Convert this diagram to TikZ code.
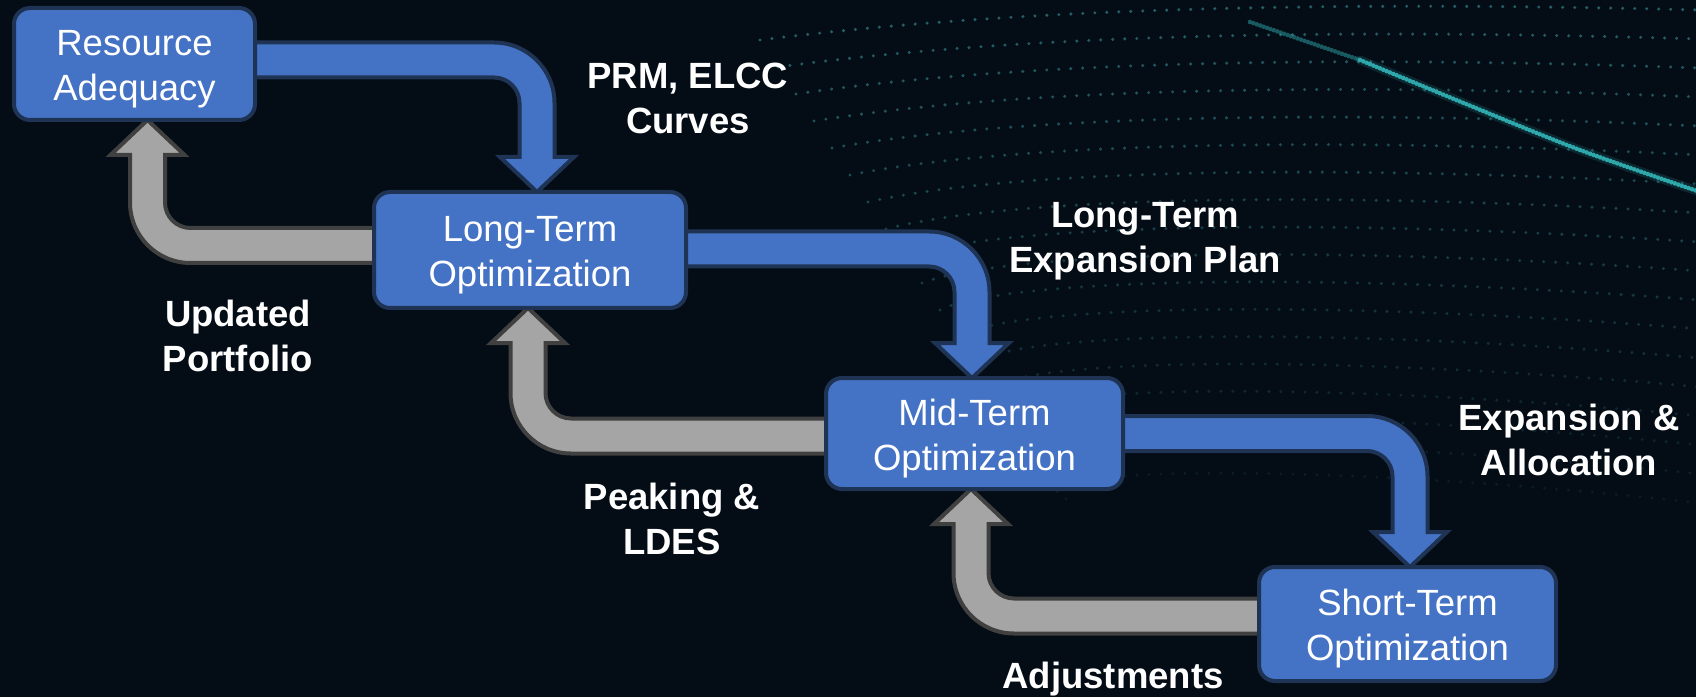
\documentclass[tikz,border=0pt]{standalone}
\usepackage{fontspec}
\setmainfont{Liberation Sans}
\usetikzlibrary{calc}
\definecolor{bgc}{HTML}{040C15}
\definecolor{boxblue}{HTML}{4472C4}
\definecolor{boxborder}{HTML}{1F3455}
\definecolor{arrgray}{HTML}{A5A5A5}
\definecolor{arrgrayborder}{HTML}{404040}
\definecolor{dotc}{HTML}{27636B}
\definecolor{streakc}{HTML}{2FA8AC}
\pgfdeclarelayer{back}
\pgfdeclarelayer{arrows}
\pgfsetlayers{back,arrows,main}
\newcommand\aw{17.5}
\newcommand\aR{43}
\newcommand\aRo{60.5}
\newcommand\aRi{25.5}
\newcommand\ahw{37}
\newcommand\ahl{35}
\newcommand\tup{\rule{0pt}{36pt}}
% bent arrow: right then down
\newcommand\bentdown[5]{%
  \draw[#1] let \p1=(#2), \p2=(#3), \n1={\y1+(#4)}, \n2={\x2+(#5)}, \n3={\y2+\ahl} in
   (\x1-3, \n1+\aw) -- (\n2-\aR, \n1+\aw) arc[start angle=90, end angle=0, radius=\aRo]
   -- (\n2+\aw, \n3) -- (\n2+\ahw, \n3) -- (\n2, \y2) -- (\n2-\ahw, \n3) -- (\n2-\aw, \n3)
   -- (\n2-\aw, \n1-\aR) arc[start angle=0, end angle=90, radius=\aRi]
   -- (\x1-3, \n1-\aw) -- cycle;}
% bent arrow: left then up
\newcommand\bentup[5]{%
  \draw[#1] let \p1=(#2), \p2=(#3), \n1={\y1+(#4)}, \n2={\x2+(#5)}, \n3={\y2-\ahl} in
   (\x1+3, \n1+\aw) -- (\n2+\aR, \n1+\aw) arc[start angle=-90, end angle=-180, radius=\aRi]
   -- (\n2+\aw, \n3) -- (\n2+\ahw, \n3) -- (\n2, \y2) -- (\n2-\ahw, \n3) -- (\n2-\aw, \n3)
   -- (\n2-\aw, \n1+\aR) arc[start angle=180, end angle=270, radius=\aRo]
   -- (\x1+3, \n1-\aw) -- cycle;}
\tikzset{
  box/.style={draw=boxborder, fill=boxblue, line width=4pt, rounded corners=16pt,
    text=white, align=center, font=\fontsize{36.5}{45}\selectfont, inner sep=0pt, outer sep=0pt},
  lbl/.style={text=white, align=center, font=\fontsize{36.5}{45}\selectfont\bfseries, inner sep=0pt},
  bluearr/.style={draw=boxborder, fill=boxblue, line width=4pt, line join=miter},
  grayarr/.style={draw=arrgrayborder, fill=arrgray, line width=4pt, line join=miter},
  dotrow/.style={dotc, line width=3.4pt, line cap=round, dash pattern=on 0pt off 12pt},
  streak/.style={streakc, line width=4.6pt, line cap=round, dash pattern=on 0pt off 3.6pt},
}
\begin{document}
\begin{tikzpicture}[x=1pt, y=1pt]
\useasboundingbox (0,0) rectangle (1696,697);
\begin{pgfonlayer}{back}
  \fill[bgc] (0,0) rectangle (1696,697);
  \foreach \i in {0,...,17}{
    \pgfmathsetmacro\op{0.95-0.045*\i}
    \draw[dotrow, draw opacity=\op] (760+18*\i, 657-27*\i) .. controls (1000, 687-27*\i) and (1300, 697-27*\i) .. (1700, 687-29*\i);
  }
  \draw[streakc, line width=9pt, opacity=0.18, line cap=round] plot[smooth] coordinates {(1360,637) (1466,593) (1580,547) (1700,505)};
  \draw[streak, opacity=0.5] plot[smooth] coordinates {(1250,675) (1305,656) (1360,637)};
  \draw[streak] plot[smooth] coordinates {(1360,637) (1466,593) (1580,547) (1700,505)};
\end{pgfonlayer}

% boxes
\node[box, minimum width=241pt, minimum height=112pt] (RA) at (134.5,633) {\tup Resource\\Adequacy};
\node[box, minimum width=312pt, minimum height=116pt] (LT) at (530,447) {\tup Long-Term\\Optimization};
\node[box, minimum width=297pt, minimum height=111pt] (MT) at (974.5,263.5) {\tup Mid-Term\\Optimization};
\node[box, minimum width=297pt, minimum height=114pt] (ST) at (1407.5,73) {\tup Short-Term\\Optimization};

% connectors
\begin{pgfonlayer}{arrows}
  \bentdown{bluearr}{RA.east}{LT.north}{4}{7}
  \bentdown{bluearr}{LT.east}{MT.north}{1}{-2.5}
  \bentdown{bluearr}{MT.east}{ST.north}{0}{2.5}
  \bentup{grayarr}{LT.west}{RA.south}{4.5}{13}
  \bentup{grayarr}{MT.west}{LT.south}{-2.5}{-2}
  \bentup{grayarr}{ST.west}{MT.south}{8}{-3.5}
\end{pgfonlayer}

% labels
\node[lbl] (l1) at (688,599) {PRM, ELCC\\Curves};
\node[lbl] (l2) at (1145,456) {Long-Term\\Expansion Plan};
\node[lbl] (l3) at (1569,257) {Expansion \&\\Allocation};
\node[lbl] (l4) at (238,361) {Updated\\Portfolio};
\node[lbl] (l5) at (672,178) {Peaking \&\\LDES};
\node[lbl, anchor=base] (l6) at (1113,9) {Adjustments};
\end{tikzpicture}
\end{document}
